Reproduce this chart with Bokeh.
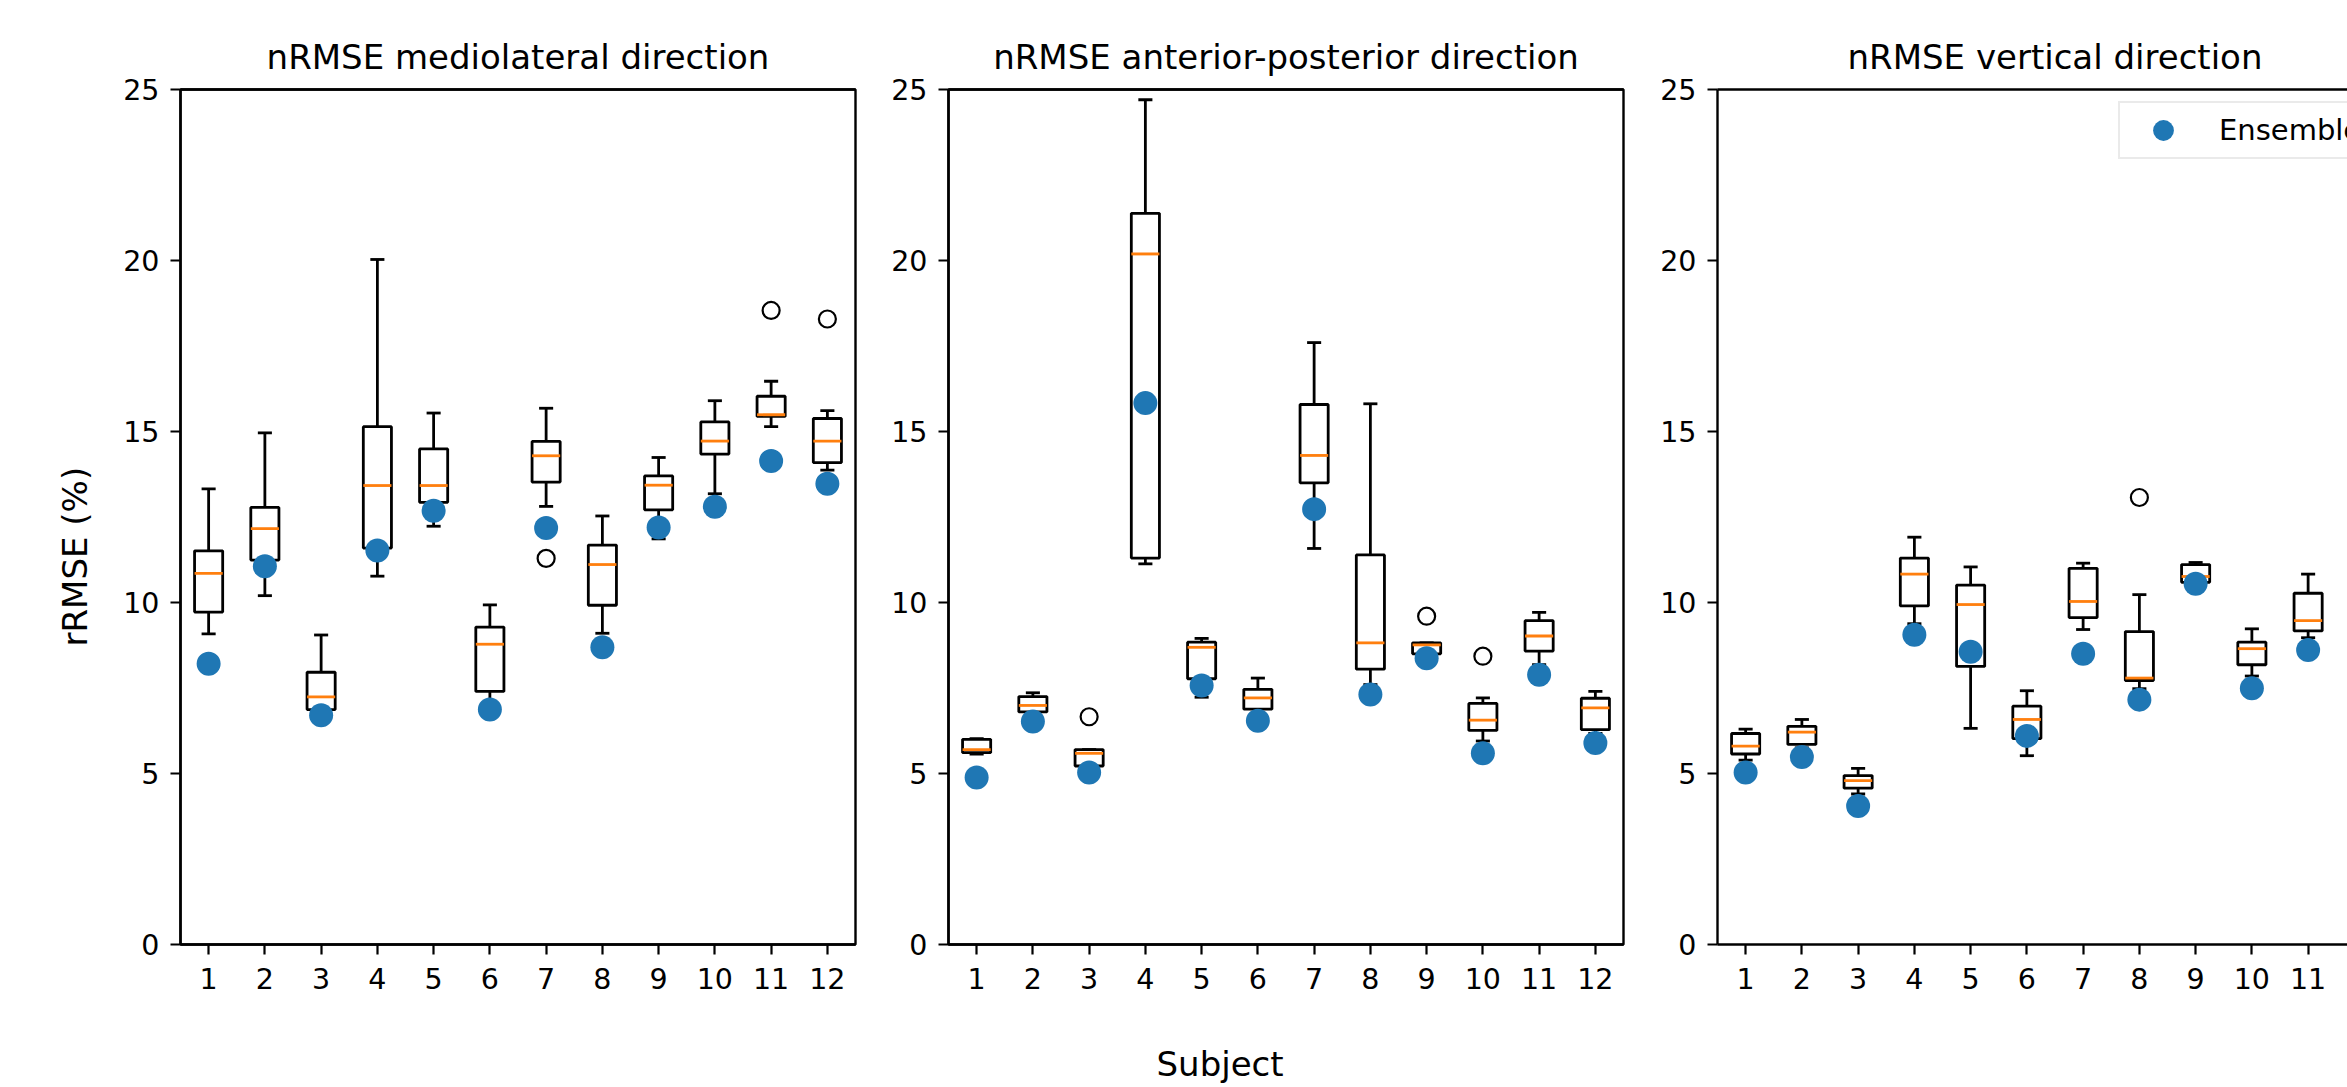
from bokeh.plotting import figure
from bokeh.layouts import row
from bokeh.models import (Range1d, FixedTicker, Legend, LegendItem, Title,
                          LinearAxis)
from bokeh.embed import file_html
from bokeh.resources import INLINE

# ---------------- data ----------------
subjects = list(range(1, 13))
y_ticks = [0, 5, 10, 15, 20, 25]
titles = ["nRMSE mediolateral direction",
          "nRMSE anterior-posterior direction",
          "nRMSE vertical direction"]
y_label = "rRMSE (%)"
x_label = "Subject"
legend_label = "Ensemble"

# mediolateral
ml_lo  = [9.08, 10.20, 6.87, 10.77, 12.23, 7.05, 12.81, 9.10, 11.86, 13.18, 15.14, 13.87]
ml_q1  = [9.72, 11.24, 6.87, 11.59, 12.93, 7.40, 13.52, 9.92, 12.71, 14.34, 15.44, 14.09]
ml_med = [10.85, 12.16, 7.24, 13.42, 13.42, 8.78, 14.29, 11.11, 13.43, 14.72, 15.49, 14.72]
ml_q3  = [11.51, 12.78, 7.96, 15.14, 14.49, 9.28, 14.71, 11.68, 13.70, 15.28, 16.03, 15.38]
ml_hi  = [13.32, 14.96, 9.05, 20.03, 15.54, 9.93, 15.68, 12.53, 14.24, 15.90, 16.47, 15.61]
ml_ens = [8.21, 11.06, 6.70, 11.52, 12.68, 6.87, 12.18, 8.69, 12.19, 12.80, 14.14, 13.47]
ml_out_x = [7, 11, 12]
ml_out_y = [11.29, 18.54, 18.29]

# anterior-posterior
ap_lo  = [5.57, 6.80, 5.22, 11.13, 7.23, 6.73, 11.58, 7.60, 8.50, 5.95, 8.18, 6.17]
ap_q1  = [5.61, 6.80, 5.22, 11.30, 7.77, 6.88, 13.50, 8.05, 8.50, 6.26, 8.58, 6.28]
ap_med = [5.70, 6.99, 5.59, 20.19, 8.69, 7.21, 14.30, 8.82, 8.76, 6.56, 9.02, 6.92]
ap_q3  = [6.00, 7.25, 5.70, 21.38, 8.84, 7.46, 15.79, 11.39, 8.82, 7.05, 9.47, 7.20]
ap_hi  = [6.02, 7.36, 5.70, 24.70, 8.95, 7.79, 17.60, 15.81, 8.82, 7.21, 9.71, 7.40]
ap_ens = [4.88, 6.52, 5.03, 15.83, 7.57, 6.54, 12.73, 7.31, 8.37, 5.59, 7.89, 5.89]
ap_out_x = [3, 9, 10]
ap_out_y = [6.66, 9.60, 8.43]

# vertical (subject 12 lies outside the visible picture)
v_subjects = list(range(1, 12))
v_lo  = [5.39, 5.75, 4.40, 9.38, 6.32, 5.52, 9.21, 7.48, 10.59, 7.85, 8.97]
v_q1  = [5.57, 5.85, 4.57, 9.90, 8.13, 6.02, 9.56, 7.72, 10.59, 8.18, 9.17]
v_med = [5.80, 6.21, 4.79, 10.83, 9.94, 6.58, 10.03, 7.79, 10.76, 8.65, 9.47]
v_q3  = [6.17, 6.38, 4.94, 11.30, 10.51, 6.97, 11.00, 9.15, 11.11, 8.84, 10.27]
v_hi  = [6.30, 6.58, 5.15, 11.91, 11.04, 7.42, 11.15, 10.23, 11.17, 9.23, 10.83]
v_ens = [5.03, 5.48, 4.05, 9.06, 8.56, 6.10, 8.50, 7.16, 10.55, 7.49, 8.61]
v_out_x = [8]
v_out_y = [13.07]

# ---------------- style ----------------
FONT = "DejaVu Sans"
FH = 855
FW = 675
H = 1087
TOP = 89
BOTTOM = H - TOP - FH
BOX_W = 0.5
CAP_W = 0.25
LW = 2.8
SPINE_W = 2.4
BLUE = "#1f77b4"
ORANGE = "#ff7f0e"
BIG = "34px"
TICK = "28.5px"


def style_axis(ax):
    ax.axis_line_color = "black"
    ax.axis_line_width = SPINE_W
    ax.major_tick_line_color = "black"
    ax.major_tick_line_width = 2.2
    ax.major_tick_out = 10
    ax.major_tick_in = 0
    ax.minor_tick_line_color = None
    ax.major_label_text_font = FONT
    ax.major_label_text_font_size = TICK
    ax.major_label_text_color = "black"


def make_panel(title, xs, lo, q1, med, q3, hi, ens, ox, oy,
               left_b, right_b, frame_w, outline=True, title_offset=None):
    x_end = 0.5 + frame_w / (FW / 12.0)
    p = figure(width=left_b + frame_w + right_b, height=H,
               x_range=Range1d(0.5, x_end), y_range=Range1d(0, 25),
               output_backend="svg", toolbar_location=None,
               min_border_left=left_b, min_border_right=right_b,
               min_border_top=TOP, min_border_bottom=BOTTOM)
    p.grid.visible = False
    p.background_fill_color = "white"
    p.border_fill_color = "white"
    p.outline_line_color = "black" if outline else None
    p.outline_line_width = SPINE_W
    xax = p.below[0]
    yax = p.left[0]
    style_axis(xax)
    style_axis(yax)
    xax.ticker = FixedTicker(ticks=subjects)
    yax.ticker = FixedTicker(ticks=y_ticks)
    xax.major_label_standoff = 13
    yax.major_label_standoff = 11
    # top spine as an axis without ticks
    top_ax = LinearAxis(ticker=FixedTicker(ticks=[]), axis_line_color="black",
                        axis_line_width=SPINE_W, major_tick_line_color=None,
                        major_tick_out=0, minor_tick_out=0,
                        minor_tick_line_color=None,
                        major_label_text_font_size="0px")
    p.add_layout(top_ax, "above")

    left = [x - BOX_W / 2 for x in xs]
    right = [x + BOX_W / 2 for x in xs]
    cl = [x - CAP_W / 2 for x in xs]
    cr = [x + CAP_W / 2 for x in xs]
    p.segment(x0=xs, y0=q3, x1=xs, y1=hi, line_color="black", line_width=LW)
    p.segment(x0=xs, y0=q1, x1=xs, y1=lo, line_color="black", line_width=LW)
    p.segment(x0=cl, y0=hi, x1=cr, y1=hi, line_color="black", line_width=LW)
    p.segment(x0=cl, y0=lo, x1=cr, y1=lo, line_color="black", line_width=LW)
    p.quad(left=left, right=right, bottom=q1, top=q3, fill_color="white",
           line_color="black", line_width=LW)
    p.segment(x0=left, y0=med, x1=right, y1=med, line_color=ORANGE, line_width=LW)
    p.scatter(x=ox, y=oy, marker="circle", size=17, fill_color=None,
              line_color="black", line_width=2.2)
    r = p.scatter(x=xs, y=ens, marker="circle", size=24, fill_color=BLUE,
                  line_color=None)

    if title_offset is None:
        t = Title(text=title, align="center")
    else:
        t = Title(text=title, align="left", offset=title_offset)
    t.text_font = FONT
    t.text_font_size = BIG
    t.text_font_style = "normal"
    t.text_color = "black"
    t.standoff = 26
    p.add_layout(t, "above")
    return p, r


p1, _ = make_panel(titles[0], subjects, ml_lo, ml_q1, ml_med, ml_q3, ml_hi, ml_ens,
                   ml_out_x, ml_out_y, 180, 4, FW)
p2, _ = make_panel(titles[1], subjects, ap_lo, ap_q1, ap_med, ap_q3, ap_hi, ap_ens,
                   ap_out_x, ap_out_y, 89, 4, FW)
p3, r3 = make_panel(titles[2], v_subjects, v_lo, v_q1, v_med, v_q3, v_hi, v_ens,
                    v_out_x, v_out_y, 90, 0, 630, outline=False, title_offset=130)

# y label (left of first panel), a little below the frame centre
yl = Title(text=y_label, align="left", offset=298, standoff=51,
           text_font=FONT, text_font_size=BIG, text_font_style="normal",
           text_color="black")
p1.add_layout(yl, "left")

# x label below the middle panel: invisible spacer axis + title
spacer = LinearAxis(ticker=FixedTicker(ticks=[6]), axis_line_color=None,
                    major_tick_line_color=None, minor_tick_line_color=None,
                    major_tick_out=50, major_tick_in=0, minor_tick_out=0,
                    major_label_standoff=0, major_label_text_alpha=0,
                    major_label_text_font_size="1px")
p2.add_layout(spacer, "below")
xl = Title(text=x_label, align="left", offset=208, standoff=0,
           text_font=FONT, text_font_size=BIG, text_font_style="normal",
           text_color="black")
p2.add_layout(xl, "below")

legend = Legend(items=[LegendItem(label=legend_label, renderers=[r3])],
                location=(401, FH - 16 - 54), margin=0, padding=1,
                glyph_width=84, glyph_height=52, label_height=34,
                label_standoff=14, label_text_font=FONT,
                label_text_font_size="29px", label_text_color="black",
                border_line_color="#d6d6d6", border_line_width=2,
                background_fill_color="white", background_fill_alpha=0.8)
p3.add_layout(legend)

layout = row(p1, p2, p3, spacing=0)
open("out.html", "w").write(file_html(layout, INLINE))
